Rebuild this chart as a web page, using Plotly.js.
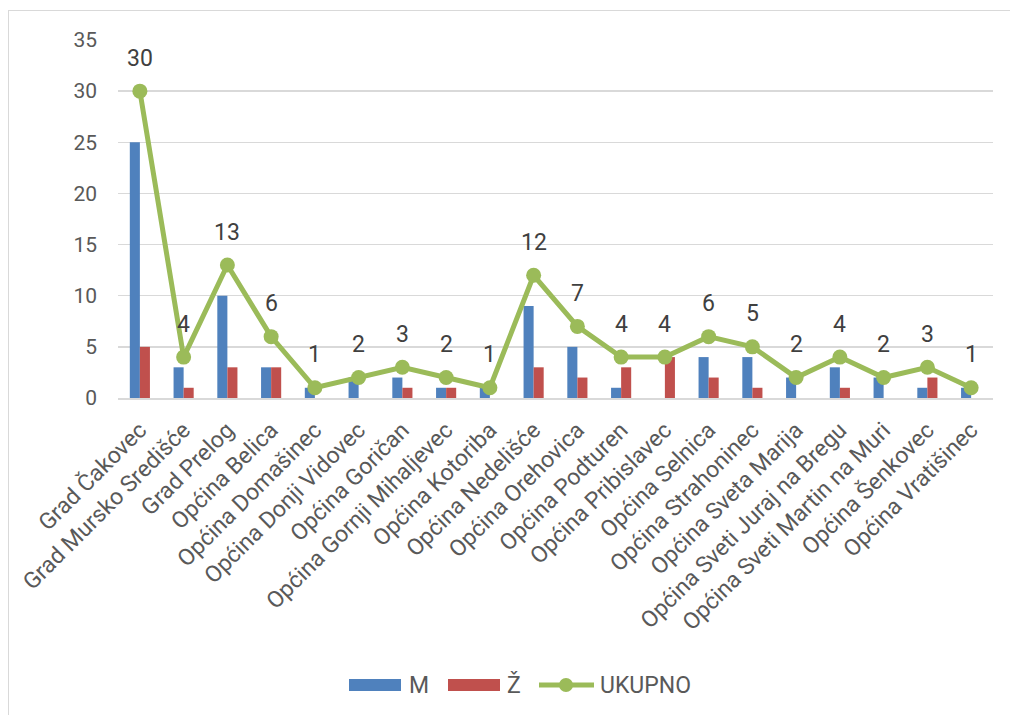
<!DOCTYPE html>
<html>
<head>
<meta charset="utf-8">
<script src="https://cdn.plot.ly/plotly-3.0.1.min.js"></script>
<style>
html,body{margin:0;padding:0;background:#fff;}
#wrap{position:relative;width:1010px;height:715px;}
#chart{position:absolute;left:0;top:0;width:1010px;height:715px;}
#frame{position:absolute;left:8px;top:10px;width:1010px;height:720px;border:1.5px solid #D9D9D9;pointer-events:none;box-sizing:border-box;}
</style>
</head>
<body>
<div id="wrap"><div id="chart"></div><div id="frame"></div></div>
<script>
const categories = ["Grad Čakovec","Grad Mursko Središće","Grad Prelog","Općina Belica","Općina Domašinec","Općina Donji Vidovec","Općina Goričan","Općina Gornji Mihaljevec","Općina Kotoriba","Općina Nedelišće","Općina Orehovica","Općina Podturen","Općina Pribislavec","Općina Selnica","Općina Strahoninec","Općina Sveta Marija","Općina Sveti Juraj na Bregu","Općina Sveti Martin na Muri","Općina Šenkovec","Općina Vratišinec"];
const M = [25,3,10,3,1,2,2,1,1,9,5,1,0,4,4,2,3,2,1,1];
const Z = [5,1,3,3,0,0,1,1,0,3,2,3,4,2,1,0,1,0,2,0];
const UKUPNO = [30,4,13,6,1,2,3,2,1,12,7,4,4,6,5,2,4,2,3,1];
const yTicks = [0,5,10,15,20,25,30,35];
const seriesNames = ["M","Ž","UKUPNO"];
const seriesColors = ["#4F81BD","#C0504D","#9BBB59"];

const FONT = "Roboto, 'Open Sans', sans-serif";
const TXT = "#595959";

const traces = [
  {type:'bar', name:seriesNames[0], x:categories, y:M, marker:{color:seriesColors[0]}},
  {type:'bar', name:seriesNames[1], x:categories, y:Z, marker:{color:seriesColors[1]}},
  {type:'scatter', mode:'lines+markers', name:seriesNames[2], x:categories, y:UKUPNO,
   line:{color:seriesColors[2], width:5}, marker:{color:seriesColors[2], size:15}}
];

const annotations = categories.map((c,i)=>({
  x:c, y:UKUPNO[i], xref:'x', yref:'y', text:String(UKUPNO[i]), showarrow:false,
  yshift:33, font:{family:FONT, size:23, color:'#404040'}
}));

// manual legend (paper coordinates; plot area 118..993 x, 40..398 y)
const PX = px => (px-118)/875;
const PY = py => (398-py)/358;
const legY = 685;
const shapes = [
  {type:'rect', xref:'paper', yref:'paper', x0:PX(349), x1:PX(401), y0:PY(691), y1:PY(679), fillcolor:seriesColors[0], line:{width:0}},
  {type:'rect', xref:'paper', yref:'paper', x0:PX(448), x1:PX(500), y0:PY(691), y1:PY(679), fillcolor:seriesColors[1], line:{width:0}},
  {type:'line', xref:'paper', yref:'paper', x0:PX(539), x1:PX(594), y0:PY(legY), y1:PY(legY), line:{color:seriesColors[2], width:5}},
  {type:'circle', xref:'paper', yref:'paper', x0:PX(559), x1:PX(573), y0:PY(legY+7), y1:PY(legY-7), fillcolor:seriesColors[2], line:{width:0}}
];
const legText = [[407,seriesNames[0]],[505,seriesNames[1]],[598,seriesNames[2]]];
legText.forEach(([px,t])=>annotations.push({xref:'paper', yref:'paper', x:PX(px), y:PY(legY), xanchor:'left', yanchor:'middle',
  text:t, showarrow:false, font:{family:FONT, size:23, color:TXT}}));

const layout = {
  width:1010, height:715,
  margin:{l:118, r:17, t:40, b:317},
  paper_bgcolor:'rgba(0,0,0,0)', plot_bgcolor:'#fff',
  font:{family:FONT, color:TXT, size:18},
  barmode:'group', bargap:0.54, bargroupgap:0,
  showlegend:false,
  xaxis:{type:'category', range:[-0.5,19.5], tickangle:-45, tickfont:{family:FONT, size:23, color:TXT},
    showgrid:false, showline:true, linecolor:'#D9D9D9', linewidth:1.5, ticks:'', automargin:false,
    ticklabelstandoff:8},
  yaxis:{range:[0,35], tickvals:yTicks, ticktext:yTicks.map(String), showgrid:true,
    gridcolor:'#D9D9D9', gridwidth:1.5, zeroline:false, showline:false, ticks:'',
    tickfont:{family:FONT, size:21, color:TXT}, ticklabelstandoff:20, automargin:false},
  annotations:annotations,
  shapes:shapes
};

Plotly.newPlot('chart', traces, layout, {displayModeBar:false, staticPlot:true});
</script>
</body>
</html>
